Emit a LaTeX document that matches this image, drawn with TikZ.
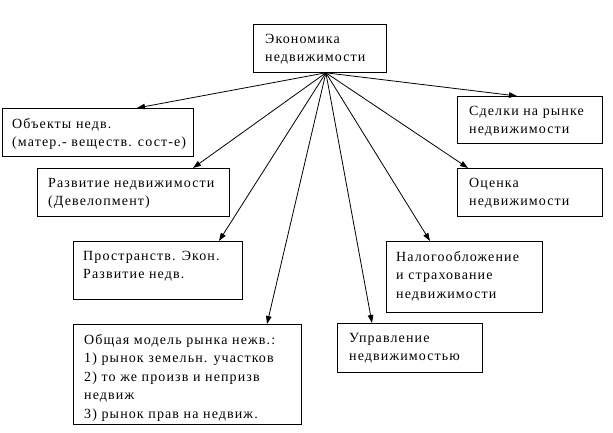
\documentclass[tikz,border=0pt]{standalone}
\usepackage{fontspec}
\setmainfont[LetterSpace=8]{Liberation Serif}
\usetikzlibrary{arrows.meta}

\begin{document}
\begin{tikzpicture}
[
	x=1pt, y=-1pt,
	box/.style={draw,line width=0.8pt,anchor=north west,inner sep=0pt},
	txt/.style={anchor=north west,inner sep=0pt,align=left,
		font=\fontsize{14}{18.5}\selectfont},
	arr/.style={line width=0.8pt,-{Triangle[length=8pt,width=5.5pt]}}
]

	\useasboundingbox (0,0) rectangle (613,433);

	% boxes
	\node[box,minimum width=133,minimum height=48] (econ) at (253,24) {};
	\node[box,minimum width=191,minimum height=48] (obj) at (2,108) {};
	\node[box,minimum width=192,minimum height=48] (dev) at (37,168) {};
	\node[box,minimum width=169,minimum height=58] (spat) at (73,241) {};
	\node[box,minimum width=228,minimum height=100] (gen) at (73,324) {};
	\node[box,minimum width=145,minimum height=49] (mgmt) at (337,323) {};
	\node[box,minimum width=156,minimum height=71] (tax) at (386,241) {};
	\node[box,minimum width=145,minimum height=48] (eval) at (457,168) {};
	\node[box,minimum width=145,minimum height=47] (deals) at (457,96) {};

	% texts
	\node[txt] (econ-t) at ([shift={(12,10)}]econ.north west) {Экономика\\недвижимости};
	\node[txt] (obj-t) at ([shift={(10,10)}]obj.north west) {Объекты недв.\\(матер.- веществ. сост-е)};
	\node[txt] (dev-t) at ([shift={(11,10)}]dev.north west) {Развитие недвижимости\\(Девелопмент)};
	\node[txt] (spat-t) at ([shift={(10,10)}]spat.north west) {Пространств. Экон.\\Развитие недв.};
	\node[txt] (gen-t) at ([shift={(11,10)}]gen.north west) {Общая модель рынка нежв.:\\1) рынок земельн. участков\\2) то же произв и непризв\\недвиж\\3) рынок прав на недвиж.};
	\node[txt] (mgmt-t) at ([shift={(12,10)}]mgmt.north west) {Управление\\недвижимостью};
	\node[txt] (tax-t) at ([shift={(10,10)}]tax.north west) {Налогообложение\\и страхование\\недвижимости};
	\node[txt] (eval-t) at ([shift={(12,10)}]eval.north west) {Оценка\\недвижимости};
	\node[txt] (deals-t) at ([shift={(12,10)}]deals.north west) {Сделки на рынке\\недвижимости};

	% arrows
	\coordinate (hub) at ([xshift=6]econ.south);
	\draw[arr] (hub) -- ([xshift=135]obj.north west);
	\draw[arr] (hub) -- ([xshift=156]dev.north west);
	\draw[arr] (hub) -- ([xshift=146]spat.north west);
	\draw[arr] (hub) -- ([xshift=194]gen.north west);
	\draw[arr] (hub) -- ([xshift=35]mgmt.north west);
	\draw[arr] (hub) -- ([xshift=44]tax.north west);
	\draw[arr] (hub) -- ([xshift=11]eval.north west);
	\draw[arr] (hub) -- ([xshift=60]deals.north west);

\end{tikzpicture}
\end{document}
